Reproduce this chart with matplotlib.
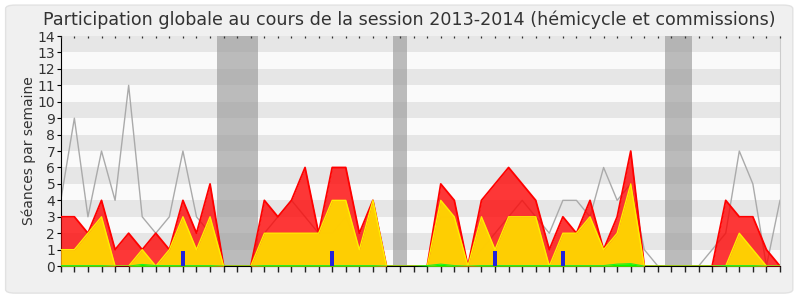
import matplotlib
matplotlib.use("Agg")
import matplotlib.pyplot as plt
import numpy as np
from matplotlib.patches import FancyBboxPatch

# one point per week, session 2013-2014
weeks = np.arange(54)

total = [3, 3, 2, 4, 1, 2, 1, 2, 1, 4, 2, 5, 0, 0, 0, 4, 3, 4, 6, 2,
         6, 6, 2, 4, 0, 0, 0, 0, 5, 4, 0, 4, 5, 6, 5, 4, 1, 3, 2, 4,
         1, 3, 7, 0, 0, 0, 0, 0, 0, 4, 3, 3, 1, 0]
hemicycle = [1, 1, 2, 3, 0, 0, 1, 0, 1, 3, 1, 3, 0, 0, 0, 2, 2, 2, 2, 2,
             4, 4, 1, 4, 0, 0, 0, 0, 4, 3, 0, 3, 1, 3, 3, 3, 0, 2, 2, 3,
             1, 2, 5, 0, 0, 0, 0, 0, 0, 0, 2, 1, 0, 0]
green = [0.03, 0.03, 0.03, 0.03, 0.0, 0.0, 0.1, 0.03, 0.03, 0.03, 0.03, 0.03, 0, 0, 0, 0.03, 0.03, 0.03, 0.03, 0.03,
         0.03, 0.03, 0.03, 0.03, 0, 0, 0, 0.03, 0.12, 0.03, 0.0, 0.03, 0.03, 0.03, 0.03, 0.03, 0.03, 0.03, 0.03, 0.03,
         0.03, 0.12, 0.15, 0, 0, 0, 0, 0, 0, 0.03, 0.03, 0.03, 0, 0]
questions = [0] * 54
for w in (9, 20, 32, 37):
    questions[w] = 0.9
maximum = [4, 9, 3, 7, 4, 11, 3, 2, 3, 7, 3, 2, 0, 0, 0, 2, 3, 4, 3, 2,
           2, 3, 1, 4, 0, 0, 0, 0, 3, 3, 0, 1, 2, 3, 4, 3, 2, 4, 4, 3,
           6, 4, 5, 1, 0, 0, 0, 0, 1, 2, 7, 5, 0, 4]

vacances = [(11.5, 14.5), (24.5, 25.5), (44.5, 46.5)]
month_pos = [1, 6, 11, 15, 18, 22, 27, 31, 36, 40, 45, 50]
month_labels = ['Oct', 'Nov', 'Déc', 'Jan 14', 'Fév', 'Mar', 'Avr', 'Mai',
                'Juin', 'Juil', 'Août', 'Sept']

fig = plt.figure(figsize=(8, 3), dpi=100)
fig.patch.set_facecolor('white')
fig.patches.append(FancyBboxPatch((0.007, 0.023), 0.984, 0.96,
                                  boxstyle='round,pad=0,rounding_size=0.012',
                                  transform=fig.transFigure, facecolor='#f0f0f0',
                                  edgecolor='#e2e2e2', linewidth=1, zorder=-10))
ax = fig.add_axes((0.076, 0.113, 0.899, 0.767))
ax.set_facecolor('#fafafa')

for k in range(1, 14, 2):
    ax.axhspan(k, k + 1, color='#e6e6e6', lw=0, zorder=0)
for a, b in vacances:
    ax.axvspan(a, b, color='#999999', alpha=0.65, lw=0, zorder=1)

ax.plot(weeks, maximum, color='#aaaaaa', lw=1, zorder=2)
ax.fill_between(weeks, 0, total, color='#ff0000', alpha=0.78, lw=0, zorder=3)
ax.plot(weeks, total, color='#ff0000', lw=1.3, zorder=3.5)
ax.fill_between(weeks, 0, hemicycle, color='#ffd700', alpha=0.95, lw=0, zorder=4)
ax.plot(weeks, hemicycle, color='#ffee00', lw=1, zorder=4.5)
ax.fill_between(weeks, 0, green, color='#00ff00', lw=0, zorder=5)
ax.plot(weeks, green, color='#22ee22', lw=0.8, zorder=5)
ax.bar(weeks, questions, width=0.33, color='#2222dd', zorder=6)

ax.set_xlim(0, 53)
ax.set_ylim(0, 14)
ax.set_yticks(range(15))
ax.set_xticks(weeks)
ax.set_xticklabels([])
ax.set_xticks(month_pos, minor=True)
ax.set_xticklabels(month_labels, minor=True)
ax.tick_params(axis='x', which='major', direction='out', length=4, width=1,
               color='#222222')
ax.tick_params(axis='x', which='minor', length=0, labelsize=10, pad=2,
               labelcolor='#333333')
ax.tick_params(axis='y', direction='out', length=3, labelsize=10, pad=1,
               labelcolor='#333333')
ax.spines['top'].set_visible(False)
ax.spines['right'].set_color('#cccccc')
# tiny dots along the top edge, one per week
for w in weeks:
    ax.plot([w, w], [13.99, 13.9], color='#333333', lw=0.9, zorder=7,
            clip_on=False, solid_capstyle='butt')

ax.set_ylabel('Séances par semaine', fontsize=10, color='#333333', labelpad=1)
fig.text(0.512, 0.933, 'Participation globale au cours de la session 2013-2014 (hémicycle et commissions)',
         ha='center', va='center', fontsize=12.6, color='#333333')

fig.savefig('out.png', dpi=100, facecolor=fig.get_facecolor())
